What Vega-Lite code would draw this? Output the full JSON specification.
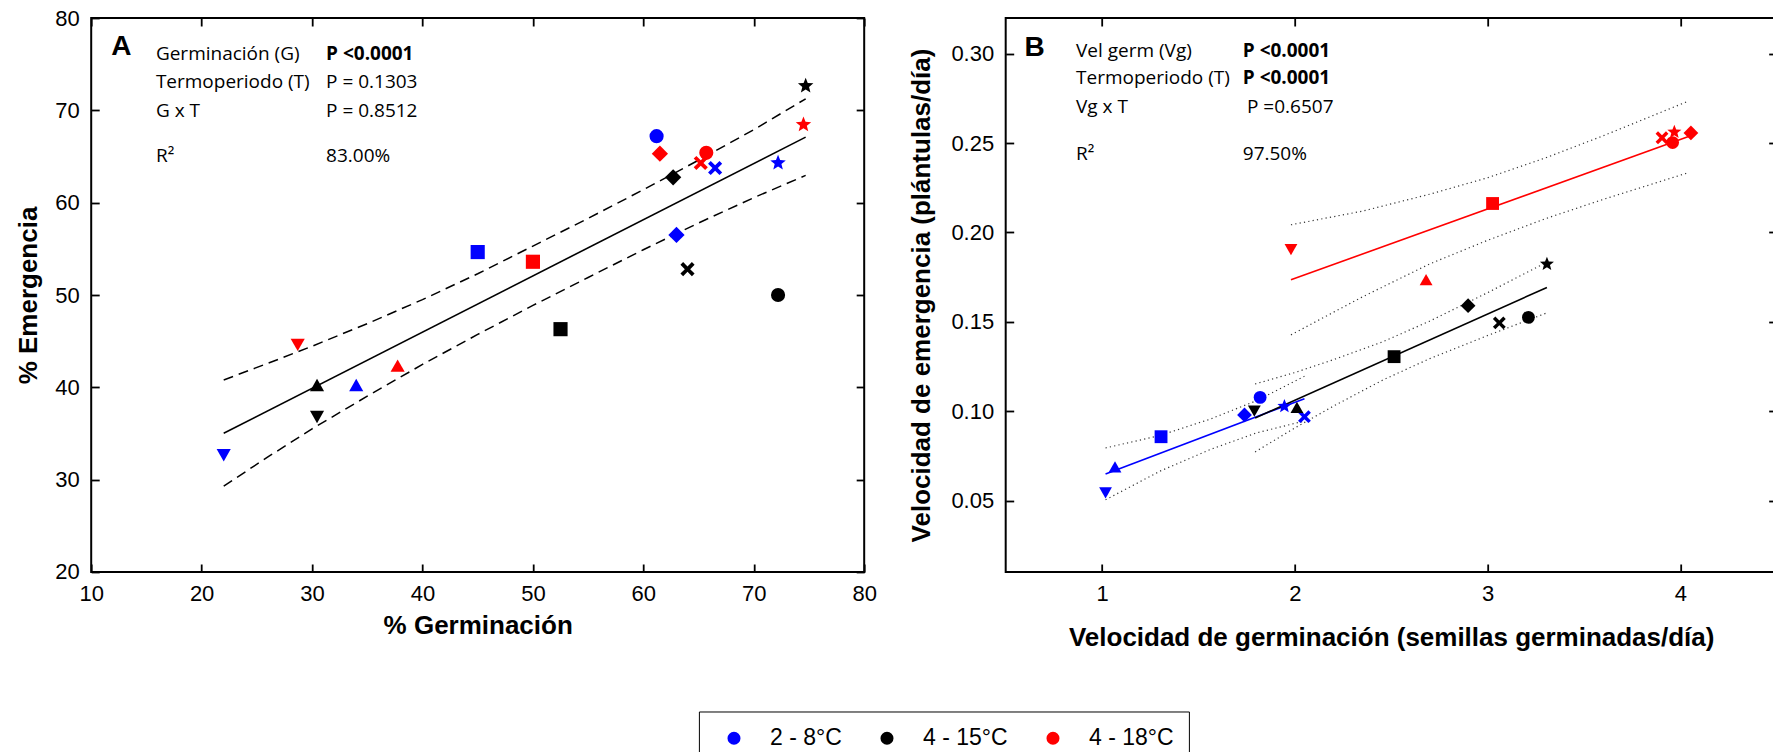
{
  "$schema": "https://vega.github.io/schema/vega-lite/v6.json",
  "usermeta": {"embedOptions": {"actions": false}},
  "background": "white",
  "padding": {"left": 14.2, "top": 6, "right": 0, "bottom": 0},
  "spacing": 29.5,
  "config": {
    "view": {"stroke": "#000", "strokeWidth": 2},
    "axis": {
      "grid": false, "domain": false,
      "labelFont": "Liberation Sans", "labelFontSize": 22, "labelColor": "#000",
      "titleFont": "Liberation Sans", "titleFontSize": 26, "titleFontWeight": "bold", "titleColor": "#000",
      "tickColor": "#000", "tickWidth": 1.8, "tickSize": -8,
      "labelFlush": false, "labelOverlap": false, "labelBound": false
    }
  },
  "datasets": {
    "puntosA": [
      {"g": 61.2, "e": 67.2, "temp": "2 - 8°C", "forma": "circulo"},
      {"g": 45.0, "e": 54.65, "temp": "2 - 8°C", "forma": "cuadrado"},
      {"g": 63.0, "e": 56.5, "temp": "2 - 8°C", "forma": "rombo"},
      {"g": 34.0, "e": 40.2, "temp": "2 - 8°C", "forma": "triArriba"},
      {"g": 22.0, "e": 32.7, "temp": "2 - 8°C", "forma": "triAbajo"},
      {"g": 66.5, "e": 63.75, "temp": "2 - 8°C", "forma": "equis"},
      {"g": 72.2, "e": 64.3, "temp": "2 - 8°C", "forma": "estrella"},
      {"g": 72.2, "e": 50.0, "temp": "4 - 15°C", "forma": "circulo"},
      {"g": 52.5, "e": 46.3, "temp": "4 - 15°C", "forma": "cuadrado"},
      {"g": 62.7, "e": 62.75, "temp": "4 - 15°C", "forma": "rombo"},
      {"g": 30.45, "e": 40.2, "temp": "4 - 15°C", "forma": "triArriba"},
      {"g": 30.45, "e": 36.85, "temp": "4 - 15°C", "forma": "triAbajo"},
      {"g": 64.0, "e": 52.8, "temp": "4 - 15°C", "forma": "equis"},
      {"g": 74.7, "e": 72.65, "temp": "4 - 15°C", "forma": "estrella"},
      {"g": 65.7, "e": 65.4, "temp": "4 - 18°C", "forma": "circulo"},
      {"g": 50.0, "e": 53.6, "temp": "4 - 18°C", "forma": "cuadrado"},
      {"g": 61.5, "e": 65.3, "temp": "4 - 18°C", "forma": "rombo"},
      {"g": 37.75, "e": 42.3, "temp": "4 - 18°C", "forma": "triArriba"},
      {"g": 28.7, "e": 44.65, "temp": "4 - 18°C", "forma": "triAbajo"},
      {"g": 65.2, "e": 64.3, "temp": "4 - 18°C", "forma": "equis"},
      {"g": 74.5, "e": 68.45, "temp": "4 - 18°C", "forma": "estrella"}
    ],
    "puntosB": [
      {"vg": 1.820, "ve": 0.1077, "temp": "2 - 8°C", "forma": "circulo"},
      {"vg": 1.306, "ve": 0.0857, "temp": "2 - 8°C", "forma": "cuadrado"},
      {"vg": 1.739, "ve": 0.0979, "temp": "2 - 8°C", "forma": "rombo"},
      {"vg": 1.067, "ve": 0.0686, "temp": "2 - 8°C", "forma": "triArriba"},
      {"vg": 1.018, "ve": 0.0546, "temp": "2 - 8°C", "forma": "triAbajo"},
      {"vg": 2.050, "ve": 0.0969, "temp": "2 - 8°C", "forma": "equis"},
      {"vg": 1.946, "ve": 0.1027, "temp": "2 - 8°C", "forma": "estrella"},
      {"vg": 3.212, "ve": 0.1525, "temp": "4 - 15°C", "forma": "circulo"},
      {"vg": 2.515, "ve": 0.1305, "temp": "4 - 15°C", "forma": "cuadrado"},
      {"vg": 2.899, "ve": 0.1590, "temp": "4 - 15°C", "forma": "rombo"},
      {"vg": 2.011, "ve": 0.1018, "temp": "4 - 15°C", "forma": "triArriba"},
      {"vg": 1.790, "ve": 0.1003, "temp": "4 - 15°C", "forma": "triAbajo"},
      {"vg": 3.061, "ve": 0.1494, "temp": "4 - 15°C", "forma": "equis"},
      {"vg": 3.308, "ve": 0.1823, "temp": "4 - 15°C", "forma": "estrella"},
      {"vg": 3.960, "ve": 0.2503, "temp": "4 - 18°C", "forma": "circulo"},
      {"vg": 3.026, "ve": 0.2162, "temp": "4 - 18°C", "forma": "cuadrado"},
      {"vg": 4.055, "ve": 0.2557, "temp": "4 - 18°C", "forma": "rombo"},
      {"vg": 2.681, "ve": 0.1733, "temp": "4 - 18°C", "forma": "triArriba"},
      {"vg": 1.980, "ve": 0.1907, "temp": "4 - 18°C", "forma": "triAbajo"},
      {"vg": 3.905, "ve": 0.2530, "temp": "4 - 18°C", "forma": "equis"},
      {"vg": 3.969, "ve": 0.2562, "temp": "4 - 18°C", "forma": "estrella"}
    ],
    "lineasA": [
      {"g": 22, "e": 35.03, "serie": "ajuste"},
      {"g": 74.7, "e": 67.1, "serie": "ajuste"},
      {"g": 22, "e": 40.8, "serie": "sup"},
      {"g": 26, "e": 42.6, "serie": "sup"},
      {"g": 30, "e": 44.45, "serie": "sup"},
      {"g": 35, "e": 46.9, "serie": "sup"},
      {"g": 40, "e": 49.5, "serie": "sup"},
      {"g": 45, "e": 52.3, "serie": "sup"},
      {"g": 50, "e": 55.3, "serie": "sup"},
      {"g": 55, "e": 58.3, "serie": "sup"},
      {"g": 60, "e": 61.4, "serie": "sup"},
      {"g": 65, "e": 64.6, "serie": "sup"},
      {"g": 70, "e": 67.9, "serie": "sup"},
      {"g": 74.7, "e": 71.25, "serie": "sup"},
      {"g": 22, "e": 29.3, "serie": "inf"},
      {"g": 26, "e": 32.46, "serie": "inf"},
      {"g": 30, "e": 35.5, "serie": "inf"},
      {"g": 35, "e": 39.04, "serie": "inf"},
      {"g": 40, "e": 42.48, "serie": "inf"},
      {"g": 45, "e": 45.73, "serie": "inf"},
      {"g": 50, "e": 48.87, "serie": "inf"},
      {"g": 55, "e": 51.9, "serie": "inf"},
      {"g": 60, "e": 54.9, "serie": "inf"},
      {"g": 65, "e": 57.8, "serie": "inf"},
      {"g": 70, "e": 60.54, "serie": "inf"},
      {"g": 74.7, "e": 62.95, "serie": "inf"}
    ],
    "ajustesB": [
      {"vg": 1.018, "ve": 0.0649, "temp": "2 - 8°C"},
      {"vg": 2.05, "ve": 0.1070, "temp": "2 - 8°C"},
      {"vg": 1.794, "ve": 0.0962, "temp": "4 - 15°C"},
      {"vg": 3.308, "ve": 0.1692, "temp": "4 - 15°C"},
      {"vg": 1.98, "ve": 0.1735, "temp": "4 - 18°C"},
      {"vg": 4.05, "ve": 0.2540, "temp": "4 - 18°C"}
    ],
    "bandasB": [
      {"vg": 1.018, "ve": 0.0794, "banda": "azul sup"},
      {"vg": 1.3, "ve": 0.0864, "banda": "azul sup"},
      {"vg": 1.56, "ve": 0.0955, "banda": "azul sup"},
      {"vg": 1.8, "ve": 0.1058, "banda": "azul sup"},
      {"vg": 2.05, "ve": 0.1195, "banda": "azul sup"},
      {"vg": 1.018, "ve": 0.0504, "banda": "azul inf"},
      {"vg": 1.3, "ve": 0.0664, "banda": "azul inf"},
      {"vg": 1.56, "ve": 0.0785, "banda": "azul inf"},
      {"vg": 1.8, "ve": 0.0878, "banda": "azul inf"},
      {"vg": 2.05, "ve": 0.0945, "banda": "azul inf"},
      {"vg": 1.794, "ve": 0.1152, "banda": "negro sup"},
      {"vg": 2.0, "ve": 0.1216, "banda": "negro sup"},
      {"vg": 2.2, "ve": 0.1288, "banda": "negro sup"},
      {"vg": 2.456, "ve": 0.1388, "banda": "negro sup"},
      {"vg": 2.7, "ve": 0.1504, "banda": "negro sup"},
      {"vg": 3.0, "ve": 0.1663, "banda": "negro sup"},
      {"vg": 3.308, "ve": 0.1834, "banda": "negro sup"},
      {"vg": 1.794, "ve": 0.0772, "banda": "negro inf"},
      {"vg": 2.0, "ve": 0.0906, "banda": "negro inf"},
      {"vg": 2.2, "ve": 0.1028, "banda": "negro inf"},
      {"vg": 2.456, "ve": 0.1174, "banda": "negro inf"},
      {"vg": 2.7, "ve": 0.1294, "banda": "negro inf"},
      {"vg": 3.0, "ve": 0.1423, "banda": "negro inf"},
      {"vg": 3.308, "ve": 0.1550, "banda": "negro inf"},
      {"vg": 1.98, "ve": 0.2043, "banda": "rojo sup"},
      {"vg": 2.35, "ve": 0.2119, "banda": "rojo sup"},
      {"vg": 2.7, "ve": 0.2214, "banda": "rojo sup"},
      {"vg": 3.0, "ve": 0.2306, "banda": "rojo sup"},
      {"vg": 3.3, "ve": 0.2417, "banda": "rojo sup"},
      {"vg": 3.6, "ve": 0.2541, "banda": "rojo sup"},
      {"vg": 4.04, "ve": 0.2734, "banda": "rojo sup"},
      {"vg": 1.98, "ve": 0.1427, "banda": "rojo inf"},
      {"vg": 2.35, "ve": 0.1639, "banda": "rojo inf"},
      {"vg": 2.7, "ve": 0.1824, "banda": "rojo inf"},
      {"vg": 3.0, "ve": 0.1956, "banda": "rojo inf"},
      {"vg": 3.3, "ve": 0.2077, "banda": "rojo inf"},
      {"vg": 3.6, "ve": 0.2185, "banda": "rojo inf"},
      {"vg": 4.04, "ve": 0.2334, "banda": "rojo inf"}
    ],
    "textoA": [
      {"x": 15.86, "y": 75.41, "t": "Germinación (G)"},
      {"x": 15.86, "y": 72.45, "t": "Termoperiodo (T)"},
      {"x": 31.27, "y": 72.45, "t": "P = 0.1303"},
      {"x": 15.86, "y": 69.30, "t": "G x T"},
      {"x": 31.27, "y": 69.30, "t": "P = 0.8512"},
      {"x": 15.86, "y": 64.43, "t": "R²"},
      {"x": 31.27, "y": 64.43, "t": "83.00%"}
    ],
    "negritaA": [
      {"x": 31.27, "y": 75.41, "t": "P <0.0001"}
    ],
    "letraA": [
      {"x": 11.81, "y": 76.02, "t": "A"}
    ],
    "textoB": [
      {"x": 0.865, "y": 0.2983, "t": "Vel germ  (Vg)"},
      {"x": 0.865, "y": 0.2829, "t": "Termoperiodo (T)"},
      {"x": 0.865, "y": 0.2667, "t": "Vg x T"},
      {"x": 1.752, "y": 0.2667, "t": "P =0.6507"},
      {"x": 0.865, "y": 0.2406, "t": "R²"},
      {"x": 1.730, "y": 0.2406, "t": "97.50%"}
    ],
    "negritaB": [
      {"x": 1.730, "y": 0.2983, "t": "P <0.0001"},
      {"x": 1.730, "y": 0.2829, "t": "P <0.0001"}
    ],
    "letraB": [
      {"x": 0.5975, "y": 0.2987, "t": "B"}
    ]
  },
  "hconcat": [
    {
      "width": 773,
      "height": 554,
      "resolve": {"axis": {"x": "independent", "y": "independent"}},
      "layer": [
        {
          "data": {"name": "lineasA"},
          "transform": [{"filter": "datum.serie == 'ajuste'"}],
          "mark": {"type": "line", "color": "#000", "strokeWidth": 1.6},
          "encoding": {
            "x": {"field": "g", "type": "quantitative", "scale": {"domain": [10, 80], "nice": false, "zero": false},
                  "axis": {"orient": "top", "labels": false, "title": null, "values": [10, 20, 30, 40, 50, 60, 70, 80]}},
            "y": {"field": "e", "type": "quantitative", "scale": {"domain": [20, 80], "nice": false, "zero": false},
                  "axis": {"orient": "right", "labels": false, "title": null, "values": [20, 30, 40, 50, 60, 70, 80]}}
          }
        },
        {
          "data": {"name": "lineasA"},
          "transform": [{"filter": "datum.serie != 'ajuste'"}],
          "mark": {"type": "line", "color": "#000", "strokeWidth": 1.5, "strokeDash": [10, 6]},
          "encoding": {
            "x": {"field": "g", "type": "quantitative", "axis": null},
            "y": {"field": "e", "type": "quantitative", "axis": null},
            "detail": {"field": "serie"}
          }
        },
        {
          "data": {"name": "puntosA"},
          "mark": {"type": "point", "filled": true, "opacity": 1, "size": 200},
          "encoding": {
            "x": {"field": "g", "type": "quantitative",
                  "axis": {"orient": "bottom", "title": "% Germinación", "values": [10, 20, 30, 40, 50, 60, 70, 80], "labelPadding": 20, "titlePadding": 8}},
            "y": {"field": "e", "type": "quantitative",
                  "axis": {"orient": "left", "title": "% Emergencia", "values": [20, 30, 40, 50, 60, 70, 80], "labelPadding": 20, "titlePadding": 13}},
            "color": {"field": "temp", "type": "nominal",
                      "scale": {"domain": ["2 - 8°C", "4 - 15°C", "4 - 18°C"], "range": ["#0000FF", "#000000", "#FF0000"]},
                      "legend": {"title": null, "orient": "none", "legendX": 607.7, "legendY": 693.5, "direction": "horizontal",
                                 "strokeColor": "#000", "padding": 15, "symbolType": "circle", "symbolSize": 170,
                                 "symbolOffset": 8.6, "labelOffset": 24.5, "columnPadding": 25,
                                 "labelFont": "Liberation Sans", "labelFontSize": 23, "labelColor": "#000", "symbolStrokeWidth": 0}},
            "shape": {"field": "forma", "type": "nominal", "legend": null,
                      "scale": {"domain": ["circulo", "cuadrado", "rombo", "triArriba", "triAbajo", "equis", "estrella"],
                                "range": ["circle", "square",
                                          "M0,-1.15L1.15,0L0,1.15L-1.15,0Z",
                                          "M0,-0.95L1,0.8L-1,0.8Z",
                                          "M0,0.95L1,-0.8L-1,-0.8Z",
                                          "M-1,-0.62L-0.62,-1L0,-0.38L0.62,-1L1,-0.62L0.38,0L1,0.62L0.62,1L0,0.38L-0.62,1L-1,0.62L-0.38,0Z",
                                          "M0,-1.15L0.294,-0.405L1.094,-0.355L0.476,0.155L0.676,0.93L0,0.5L-0.676,0.93L-0.476,0.155L-1.094,-0.355L-0.294,-0.405Z"]}}
          }
        },
        {
          "data": {"name": "textoA"},
          "mark": {"type": "text", "align": "left", "baseline": "alphabetic", "font": "Open Sans", "fontSize": 19, "color": "#000"},
          "encoding": {
            "x": {"field": "x", "type": "quantitative", "axis": null},
            "y": {"field": "y", "type": "quantitative", "axis": null},
            "text": {"field": "t"}
          }
        },
        {
          "data": {"name": "negritaA"},
          "mark": {"type": "text", "align": "left", "baseline": "alphabetic", "font": "Open Sans", "fontSize": 19, "fontWeight": "bold", "color": "#000"},
          "encoding": {
            "x": {"field": "x", "type": "quantitative", "axis": null},
            "y": {"field": "y", "type": "quantitative", "axis": null},
            "text": {"field": "t"}
          }
        },
        {
          "data": {"name": "letraA"},
          "mark": {"type": "text", "align": "left", "baseline": "alphabetic", "font": "Liberation Sans", "fontSize": 28, "fontWeight": "bold", "color": "#000"},
          "encoding": {
            "x": {"field": "x", "type": "quantitative", "axis": null},
            "y": {"field": "y", "type": "quantitative", "axis": null},
            "text": {"field": "t"}
          }
        }
      ]
    },
    {
      "width": 771,
      "height": 554,
      "resolve": {"axis": {"x": "independent", "y": "independent"}},
      "layer": [
        {
          "data": {"name": "bandasB"},
          "mark": {"type": "line", "color": "#333", "strokeWidth": 1.2, "strokeDash": [1.2, 3.2]},
          "encoding": {
            "x": {"field": "vg", "type": "quantitative", "scale": {"domain": [0.5, 4.5], "nice": false, "zero": false},
                  "axis": {"orient": "top", "labels": false, "title": null, "values": [1, 2, 3, 4]}},
            "y": {"field": "ve", "type": "quantitative", "scale": {"domain": [0.01, 0.32], "nice": false, "zero": false},
                  "axis": {"orient": "right", "labels": false, "title": null, "values": [0.05, 0.1, 0.15, 0.2, 0.25, 0.3]}},
            "detail": {"field": "banda"}
          }
        },
        {
          "data": {"name": "ajustesB"},
          "mark": {"type": "line", "strokeWidth": 1.6},
          "encoding": {
            "x": {"field": "vg", "type": "quantitative", "axis": null},
            "y": {"field": "ve", "type": "quantitative", "axis": null},
            "stroke": {"field": "temp", "type": "nominal", "legend": null,
                       "scale": {"domain": ["2 - 8°C", "4 - 15°C", "4 - 18°C"], "range": ["#0000FF", "#000000", "#FF0000"]}}
          }
        },
        {
          "data": {"name": "puntosB"},
          "mark": {"type": "point", "filled": true, "opacity": 1, "size": 165},
          "encoding": {
            "x": {"field": "vg", "type": "quantitative",
                  "axis": {"orient": "bottom", "title": "Velocidad de germinación (semillas germinadas/día)", "values": [1, 2, 3, 4], "labelPadding": 20, "titlePadding": 20}},
            "y": {"field": "ve", "type": "quantitative",
                  "axis": {"orient": "left", "title": "Velocidad de emergencia (plántulas/día)", "values": [0.05, 0.1, 0.15, 0.2, 0.25, 0.3], "format": ".2f", "labelPadding": 20, "titlePadding": 16}},
            "color": {"field": "temp", "type": "nominal",
                      "scale": {"domain": ["2 - 8°C", "4 - 15°C", "4 - 18°C"], "range": ["#0000FF", "#000000", "#FF0000"]},
                      "legend": {"title": null, "orient": "none", "legendX": 607.7, "legendY": 693.5, "direction": "horizontal",
                                 "strokeColor": "#000", "padding": 15, "symbolType": "circle", "symbolSize": 170,
                                 "symbolOffset": 8.6, "labelOffset": 24.5, "columnPadding": 25,
                                 "labelFont": "Liberation Sans", "labelFontSize": 23, "labelColor": "#000", "symbolStrokeWidth": 0}},
            "shape": {"field": "forma", "type": "nominal", "legend": null,
                      "scale": {"domain": ["circulo", "cuadrado", "rombo", "triArriba", "triAbajo", "equis", "estrella"],
                                "range": ["circle", "square",
                                          "M0,-1.15L1.15,0L0,1.15L-1.15,0Z",
                                          "M0,-0.95L1,0.8L-1,0.8Z",
                                          "M0,0.95L1,-0.8L-1,-0.8Z",
                                          "M-1,-0.62L-0.62,-1L0,-0.38L0.62,-1L1,-0.62L0.38,0L1,0.62L0.62,1L0,0.38L-0.62,1L-1,0.62L-0.38,0Z",
                                          "M0,-1.15L0.294,-0.405L1.094,-0.355L0.476,0.155L0.676,0.93L0,0.5L-0.676,0.93L-0.476,0.155L-1.094,-0.355L-0.294,-0.405Z"]}}
          }
        },
        {
          "data": {"name": "textoB"},
          "mark": {"type": "text", "align": "left", "baseline": "alphabetic", "font": "Open Sans", "fontSize": 19, "color": "#000"},
          "encoding": {
            "x": {"field": "x", "type": "quantitative", "axis": null},
            "y": {"field": "y", "type": "quantitative", "axis": null},
            "text": {"field": "t"}
          }
        },
        {
          "data": {"name": "negritaB"},
          "mark": {"type": "text", "align": "left", "baseline": "alphabetic", "font": "Open Sans", "fontSize": 19, "fontWeight": "bold", "color": "#000"},
          "encoding": {
            "x": {"field": "x", "type": "quantitative", "axis": null},
            "y": {"field": "y", "type": "quantitative", "axis": null},
            "text": {"field": "t"}
          }
        },
        {
          "data": {"name": "letraB"},
          "mark": {"type": "text", "align": "left", "baseline": "alphabetic", "font": "Liberation Sans", "fontSize": 28, "fontWeight": "bold", "color": "#000"},
          "encoding": {
            "x": {"field": "x", "type": "quantitative", "axis": null},
            "y": {"field": "y", "type": "quantitative", "axis": null},
            "text": {"field": "t"}
          }
        }
      ]
    }
  ],
  "resolve": {"scale": {"color": "shared", "shape": "shared"}}
}
